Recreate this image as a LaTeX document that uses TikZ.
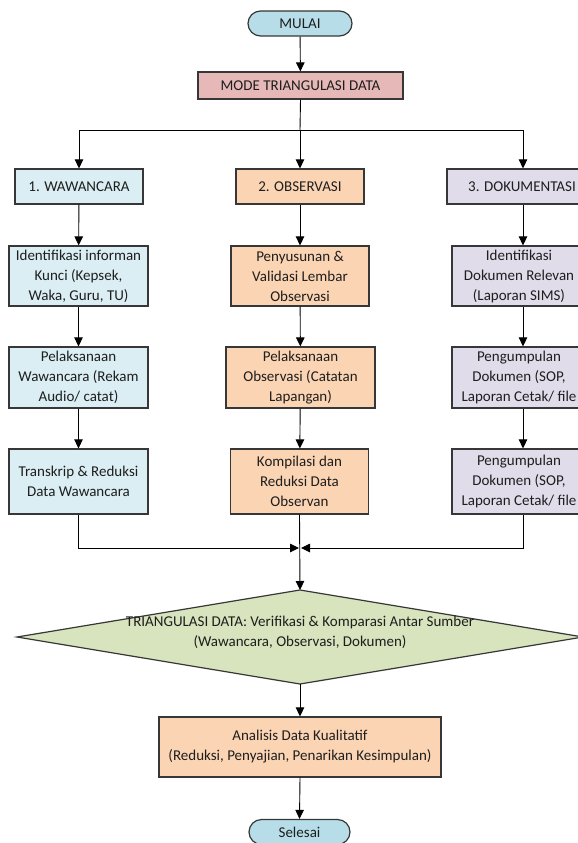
\documentclass[tikz,border=0pt]{standalone}
\usepackage{fontspec}
\setmainfont{Carlito}
\usetikzlibrary{arrows.meta}
\definecolor{bordercol}{RGB}{55,55,55}
\definecolor{txtcol}{RGB}{30,30,30}
\definecolor{termfill}{RGB}{183,221,232}
\definecolor{modefill}{RGB}{230,185,184}
\definecolor{bluefill}{RGB}{219,238,243}
\definecolor{peachfill}{RGB}{251,212,180}
\definecolor{lilacfill}{RGB}{224,220,234}
\definecolor{greenfill}{RGB}{215,228,189}
\begin{document}
\begin{tikzpicture}[x=1pt,y=-1pt,
  box/.style={draw=bordercol, line width=1.2pt, align=center, inner sep=0pt, text=txtcol,
              font=\fontsize{15}{20}\selectfont},
  term/.style={box, rounded corners=12.5pt, fill=termfill},
  bluebox/.style={box, fill=bluefill},
  peachbox/.style={box, fill=peachfill},
  lilacbox/.style={box, fill=lilacfill},
  conn/.style={line width=0.9pt, draw=black, -{Triangle[length=9pt,width=8.5pt]}},
  plain/.style={line width=0.9pt, draw=black}]
\useasboundingbox (0,0) rectangle (578,843);
\clip (0,0) rectangle (578,843);
\fill[white] (0,0) rectangle (578,843);

% start and mode
\node[term, minimum width=104pt, minimum height=25pt] (mulai) at (300,23.5) {MULAI};
\node[box, fill=modefill, minimum width=205pt, minimum height=27pt] (mode) at (300.5,85.5) {MODE TRIANGULASI DATA};

% column 1
\node[bluebox, minimum width=128pt, minimum height=35pt] (a0) at (79,186.5) {1. WAWANCARA};
\node[bluebox, minimum width=139pt, minimum height=60pt] (a1) at (78.5,276) {Identifikasi informan\\Kunci (Kepsek,\\Waka, Guru, TU)};
\node[bluebox, minimum width=139pt, minimum height=61pt] (a2) at (78.5,377.5) {Pelaksanaan\\Wawancara (Rekam\\Audio/ catat)};
\node[bluebox, minimum width=139pt, minimum height=65pt] (a3) at (78.5,481.5) {Transkrip \& Reduksi\\Data Wawancara};

% column 2
\node[peachbox, minimum width=128pt, minimum height=35pt] (b0) at (300,186.5) {2. OBSERVASI};
\node[peachbox, minimum width=138pt, minimum height=60pt] (b1) at (300,276) {Penyusunan \&\\Validasi Lembar\\Observasi};
\node[peachbox, minimum width=149pt, minimum height=61pt] (b2) at (300.5,377.5) {Pelaksanaan\\Observasi (Catatan\\Lapangan)};
\node[peachbox, minimum width=138pt, minimum height=65pt] (b3) at (299.5,481.5) {Kompilasi dan\\Reduksi Data\\Observan};

% column 3
\node[lilacbox, minimum width=150pt, minimum height=35pt] (c0) at (522,186.5) {3. DOKUMENTASI};
\node[lilacbox, minimum width=134pt, minimum height=60pt] (c1) at (519,276) {Identifikasi\\Dokumen Relevan\\(Laporan SIMS)};
\node[lilacbox, minimum width=134pt, minimum height=61pt] (c2) at (519,377.5) {Pengumpulan\\Dokumen (SOP,\\Laporan Cetak/ file};
\node[lilacbox, minimum width=134pt, minimum height=65pt] (c3) at (519,481.5) {Pengumpulan\\Dokumen (SOP,\\Laporan Cetak/ file};

% decision diamond
\coordinate (dtop) at (300,590);
\coordinate (dbot) at (300,684);
\coordinate (dleft) at (17,637);
\coordinate (dright) at (583,637);
\filldraw[fill=greenfill, draw=bordercol, line width=1.2pt] (dtop) -- (dright) -- (dbot) -- (dleft) -- cycle;
\node[align=center, inner sep=0pt, text=txtcol, font=\fontsize{15}{20}\selectfont] (tri) at (300,632)
  {TRIANGULASI DATA: Verifikasi \& Komparasi Antar Sumber\\(Wawancara, Observasi, Dokumen)};

% analysis and end
\node[peachbox, minimum width=282pt, minimum height=60pt] (ana) at (300,747) {Analisis Data Kualitatif\\(Reduksi, Penyajian, Penarikan Kesimpulan)};
\node[term, minimum width=101pt, minimum height=25pt] (sel) at (299.5,832) {Selesai};

% connectors
\coordinate (j1) at (300,130);
\coordinate (j2) at (300,548);
\coordinate (k3) at (523,130);
\draw[conn] (mulai) -- (mode);
\draw[plain] (mode.south) -- (j1);
\draw[conn] (j1) -| (a0.north);
\draw[plain] (j1) -- (k3);
\draw[conn] (k3) -- (k3 |- c0.north);
\draw[conn] (j1) -- (b0.north);
\draw[conn] (a0) -- (a1);
\draw[conn] (a1) -- (a2);
\draw[conn] (a2) -- (a3);
\draw[conn] (b0) -- (b1);
\draw[conn] (b1) -- (b2);
\draw[conn] (b2) -- (b3);
\draw[conn] (k3 |- c0.south) -- (k3 |- c1.north);
\draw[conn] (k3 |- c1.south) -- (k3 |- c2.north);
\draw[conn] (k3 |- c2.south) -- (k3 |- c3.north);
\draw[conn, shorten >=1pt] (a3.south) |- (j2);
\draw[conn, shorten >=1pt] (k3 |- c3.south) |- (j2);
\draw[conn] (b3.south) -- (dtop);
\draw[conn] (dbot) -- (ana.north);
\draw[conn] (ana.south) -- (sel.north);
\end{tikzpicture}
\end{document}
